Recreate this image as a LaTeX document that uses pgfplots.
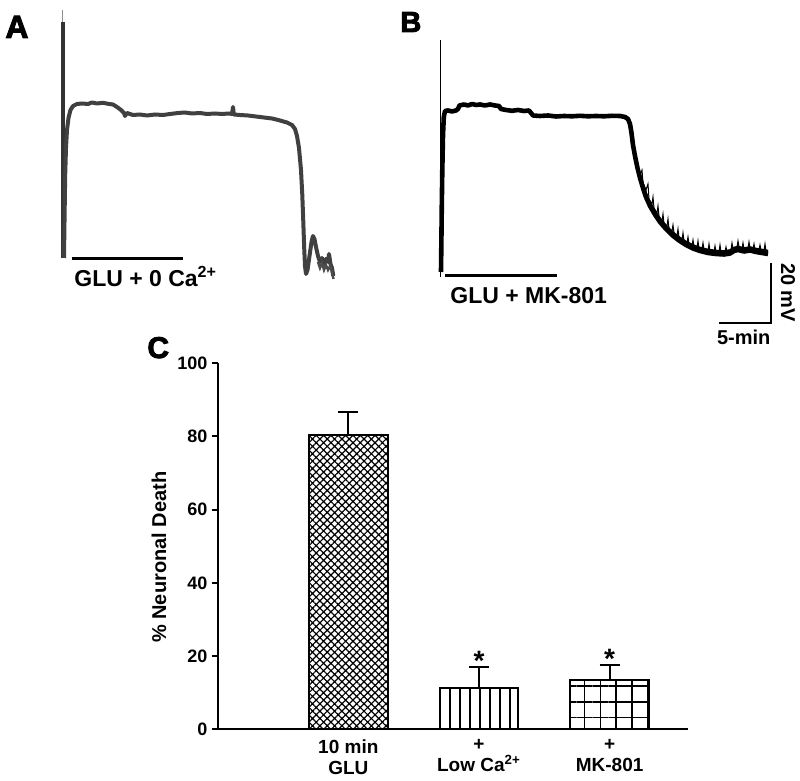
\documentclass[border=0pt]{standalone}
\usepackage{pgfplots}
\pgfplotsset{compat=1.18}
\usepackage{fontspec}
\setmainfont{Liberation Sans}
\newfontfamily\heavyfont{Liberation Sans}[UprightFont={* Bold}, FakeBold=3]
\usetikzlibrary{patterns.meta}
\newcommand{\fs}[1]{\bfseries\fontsize{#1}{#1}\selectfont}
\begin{document}
\begin{tikzpicture}
\useasboundingbox (0,0) rectangle (400pt,390.5pt);
% ---------- overlay axis for panels A and B (pixel coordinates) ----------
\begin{axis}[at={(0pt,0pt)}, anchor=south west, scale only axis,
  width=400pt, height=390.5pt, xmin=0, xmax=800, ymin=0, ymax=781,
  y dir=reverse, hide axis, clip=false]
% Panel A
\addplot[line width=0.6pt, color=black!45] coordinates {(62.8,10) (62.8,24)};
\addplot[line width=2pt, color=black!80] coordinates {(63,22) (63,258)};
\addplot[line width=2pt, color=black!75, line join=round] coordinates {
(64,258)(64.6,215)(65.2,175)(66,148)(67,130)(68.5,118)(70.5,110)(73,106)(77,104)(82,103.5)
(88,104)(92,102.5)(97,103.5)(103,102.8)(108,103.8)(113,104.5)(117,107)(121,110)(124,113)
(125,116)(127,113)(133,115)(140,114.5)(147,115.5)(155,114.5)(163,115)(170,114)(178,113)
(185,112.5)(192,113.5)(200,113)(207,114)(215,113.5)(222,114)(229,113.5)(232,114)(233,107)
(233.8,114.5)(240,115)(248,115.5)(256,116.5)(264,117.5)(272,118.5)(280,120.5)(287,122.5)
(292,125)(295,129)(297,136)(299,148)(301,170)(302.3,195)(303.3,222)(304.2,248)(305,266)
(306,274)(307.5,270)(309.5,256)(311.5,242)(313,236)(314.5,239)(316,247)(318,256)(320,262)
(322,258)(324,264)(326,259)(328,262)(329,254)(330.5,264)(332,268)(333.3,276)};
\addplot[line width=1.2pt, color=black!70] coordinates {
(318,262)(320,268)(322,263)(324,270)(326,265)(328,270)(330,266)(332,272)(333.5,279)};
\addplot[line width=1.5pt, black] coordinates {(71.7,258.3) (183.3,258.3)};
\node[anchor=base west, inner sep=0pt] at (axis cs:74,286.5) {\fs{11.5}GLU + 0 Ca\textsuperscript{2+}};
\node[anchor=base west, inner sep=0pt] at (axis cs:5,38) {\heavyfont\fontsize{16}{16}\selectfont A};
% Panel B
\addplot[line width=0.5pt, black] coordinates {(440,40) (440,277)};
\addplot[line width=2.3pt, black, line join=round] coordinates {
(441,272)(441.4,240)(441.8,205)(442.3,170)(443,135)(443.8,117)(445,111)(448,110.5)(452,111.5)
(456,110.5)(458,109)(459.5,105.5)(464,104.5)(468,105.5)(472,104)(476,105)(480,104.5)(485,105.5)
(490,104.5)(495,105.5)(499,106)(501,109)(506,110)(512,110.8)(518,110)(524,111)(529,110.5)
(531,113)(533,115.5)(540,116)(548,115.5)(556,116.5)(564,116)(572,116.3)(580,115.8)(588,116.3)
(596,116)(604,116.3)(612,115.8)(620,116)(625,117)(628,119)(630,124)(631.5,133)(633,145)
(635,156)(637.5,168)(640,178)(643,188)(646,197)(650,206)(655,214.5)(660,222)(666,229)
(672,235)(679,240.5)(686,245)(693,248.5)(700,251)(708,253)(716,254)(724,254.5)(730,253.5)
(734,251)(738,250)(744,251.5)(750,250.5)(756,252)(762,253)(768,254)};
\addplot[line width=1.3pt, black, line join=round] coordinates {
(640,175)(643,185)(646,194)(650,203)(655,211.5)(660,219)(666,226)(672,232)(679,237.5)
(686,242)(693,245.5)(700,248)(708,250)(716,251)(724,251.5)(730,250.5)(734,248)(738,247)
(744,248.5)(750,247.5)(756,249)(762,250)(768,251)};
\addplot[line width=0.5pt, black] coordinates {
(640,175)(642,170)(643,183)(646,190)(648,184)(649,199)(652,204)(653,197)(654,208)(657,213)
(658,206)(659,216)(662,221)(663,214)(664,224)(667,226)(668,219)(669,229)(672,231)(673,225)
(674,233)(677,236)(678,229)(679,238)(682,240)(683,233)(684,241)(687,243)(688,237)(689,244)
(692,246)(693,240)(694,247)(697,248)(698,241)(699,249)(702,249)(703,243)(704,250)(708,251)
(709,244)(710,251)(714,252)(715,246)(716,252)(719,252)(720,245)(721,252)(725,252)(726,247)
(727,252)(731,250)(732,243)(733,249)(737,247)(738,241)(739,247)(742,249)(743,243)(744,249)
(748,248)(749,242)(750,248)(753,249)(754,244)(755,250)(759,250)(760,245)(761,250)(764,251)
(765,244)(766,251)(768,251)};
\addplot[line width=1.5pt, black] coordinates {(445,276) (556.7,276)};
\node[anchor=base west, inner sep=0pt] at (axis cs:450,303.3) {\fs{11.5}GLU + MK-801};
\node[anchor=base west, inner sep=0pt] at (axis cs:400,32) {\heavyfont\fontsize{14.5}{14.5}\selectfont B};
% scale bar
\addplot[line width=1pt, black] coordinates {(770.7,263.3) (770.7,322.7) (719,322.7)};
\node[rotate=-90, inner sep=0pt] at (axis cs:788,292.5) {\fs{10}20 mV};
\node[anchor=base west, inner sep=0pt] at (axis cs:716.7,345) {\fs{10}5-min};
% Panel C letter
\node[anchor=base west, inner sep=0pt] at (axis cs:147,358) {\heavyfont\fontsize{15}{15}\selectfont C};
\end{axis}
% ---------- Panel C bar chart ----------
\begin{axis}[at={(108.85pt,25.85pt)}, anchor=south west, scale only axis,
  width=235.15pt, height=183pt, xmin=0, xmax=3.6, ymin=0, ymax=100,
  axis x line=bottom, axis y line=left, axis line style={line width=1pt, -},
  ytick={0,20,40,60,80,100}, yticklabels={0,20,40,60,80,100},
  xtick={1,2,3},
  xticklabels={{10 min\\GLU},{+\\Low Ca\textsuperscript{2+}},{+\\MK-801}},
  xticklabel style={align=center, font=\bfseries\fontsize{9.5}{10.5}\selectfont, inner sep=2pt},
  yticklabel style={font=\fs{9}, inner sep=2pt},
  xtick style={draw=none},
  ytick style={line width=1pt, black},
  tick align=outside, major tick length=3pt,
  ylabel={\% Neuronal Death},
  ylabel style={font=\fs{10}, at={(ticklabel cs:0.47)}},
  clip=false]
\addplot[ybar, bar width=0.604, bar shift=0pt, draw=black, line width=1pt, fill=white,
  postaction={pattern={Hatch[angle=45,distance=2.6pt,line width=0.6pt]}},
  error bars/.cd, y dir=plus, y explicit,
  error bar style={line width=1pt, black},
  error mark options={rotate=90, line width=1pt, black, mark size=5pt}]
  coordinates {(1,80.4) +- (0,6.3)};
\addplot[ybar, bar width=0.604, bar shift=0pt, draw=black, line width=1pt, fill=white,
  postaction={pattern={Lines[angle=90,distance=5pt,line width=0.6pt]}},
  error bars/.cd, y dir=plus, y explicit,
  error bar style={line width=1pt, black},
  error mark options={rotate=90, line width=1pt, black, mark size=5pt}]
  coordinates {(2,11.2) +- (0,5.7)};
\addplot[ybar, bar width=0.604, bar shift=0pt, draw=black, line width=1pt, fill=white,
  postaction={pattern={Hatch[angle=0,distance=7.9pt,line width=0.7pt]}},
  error bars/.cd, y dir=plus, y explicit,
  error bar style={line width=1pt, black},
  error mark options={rotate=90, line width=1pt, black, mark size=5pt}]
  coordinates {(3,13.5) +- (0,4.0)};
\node[anchor=south, inner sep=1pt] at (axis cs:2,15.4) {\fs{14}*};
\node[anchor=south, inner sep=1pt] at (axis cs:3,16.0) {\fs{14}*};
\end{axis}
\end{tikzpicture}
\end{document}
